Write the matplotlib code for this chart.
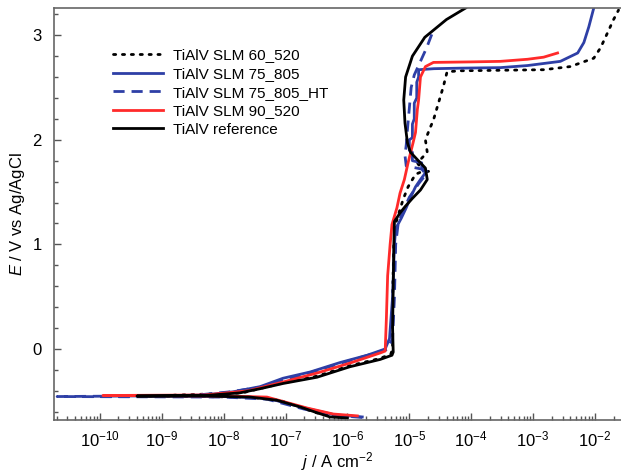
import numpy as np
import matplotlib
matplotlib.use("Agg")
import matplotlib.pyplot as plt
from matplotlib.ticker import FixedLocator, LogLocator, MultipleLocator, NullFormatter

plt.rcParams['font.family'] = ['Liberation Sans', 'DejaVu Sans']
plt.rcParams['mathtext.fontset'] = 'custom'
plt.rcParams['mathtext.rm'] = 'Liberation Sans'
plt.rcParams['mathtext.it'] = 'Liberation Sans:italic'

# polarization curves: log10(j / A cm-2) and E / V
lj_60 = [-6.05, -6.5, -7.1, -7.6, -9.2, -7.7, -7.04, -6.49, -5.96, -5.47, -5.30, -5.27,
         -5.27, -5.25, -5.22, -5.10, -5.02, -4.90, -4.82, -4.66, -4.80, -4.87, -4.71,
         -4.74, -4.66, -4.61, -4.50, -4.45, -4.39, -4.29, -4.18, -2.83, -2.40, -2.02,
         -1.91, -1.80, -1.70, -1.62]
E_60 = [-0.66, -0.61, -0.49, -0.46, -0.45, -0.42, -0.325, -0.26, -0.16, -0.09, -0.05, 0.0,
        0.5, 1.0, 1.2, 1.43, 1.55, 1.67, 1.69, 1.70, 1.72, 1.78, 1.88,
        2.0, 2.12, 2.19, 2.41, 2.51, 2.65, 2.655, 2.66, 2.67, 2.70, 2.78,
        2.88, 3.02, 3.15, 3.24]

lj_75 = [-5.76, -6.2, -6.65, -7.3, -8.0, -9.3, -8.3, -7.85, -7.41, -7.04, -6.60, -6.12,
         -5.68, -5.39, -5.32, -5.27, -5.24, -5.22, -5.13, -5.05, -4.98, -4.90, -4.82,
         -4.72, -4.80, -4.80, -4.95, -4.95, -5.00, -5.00, -4.95, -4.95, -4.92, -4.92,
         -4.88, -4.88, -4.85, -4.85, -4.6, -4.17, -3.53, -3.09, -2.56, -2.28, -2.18,
         -2.10, -2.02]
E_75 = [-0.65, -0.63, -0.57, -0.47, -0.455, -0.45, -0.44, -0.41, -0.36, -0.28, -0.22, -0.13,
        -0.06, 0.0, 0.1, 0.5, 1.0, 1.15, 1.25, 1.35, 1.45, 1.55, 1.62,
        1.70, 1.74, 1.78, 1.80, 1.88, 1.90, 2.00, 2.02, 2.15, 2.20, 2.35,
        2.40, 2.55, 2.60, 2.67, 2.68, 2.685, 2.69, 2.71, 2.75, 2.83, 2.93,
        3.08, 3.26]

lj_75ht = [-5.76, -6.2, -6.7, -7.3, -8.0, -10.69, -8.5, -7.9, -7.4, -7.0, -6.6, -6.1,
           -5.7, -5.36, -5.27, -5.24, -5.22, -5.18, -5.10, -5.0, -4.85, -4.73, -4.80,
           -5.05, -5.07, -5.05, -5.03, -5.0, -4.97, -4.92, -4.82, -4.72, -4.61]
E_75ht = [-0.655, -0.635, -0.575, -0.48, -0.46, -0.455, -0.445, -0.41, -0.365, -0.29, -0.225, -0.135,
          -0.065, -0.005, 0.1, 0.5, 1.0, 1.2, 1.32, 1.45, 1.58, 1.67, 1.72,
          1.75, 1.85, 1.95, 2.1, 2.3, 2.5, 2.62, 2.75, 2.88, 3.05]

lj_90 = [-5.84, -6.23, -6.65, -7.30, -8.0, -9.95, -8.3, -7.6, -7.04, -6.49, -5.955, -5.47,
         -5.39, -5.37, -5.35, -5.31, -5.28, -5.20, -5.15, -5.08, -5.02, -4.94, -4.90,
         -4.87, -4.85, -4.82, -4.74, -4.61, -4.0, -3.53, -3.09, -2.83, -2.605]
E_90 = [-0.64, -0.622, -0.565, -0.46, -0.45, -0.445, -0.44, -0.40, -0.316, -0.23, -0.134, -0.038,
        -0.02, 0.3, 0.7, 1.0, 1.19, 1.35, 1.49, 1.62, 1.78, 1.97, 2.07,
        2.29, 2.38, 2.60, 2.70, 2.74, 2.745, 2.75, 2.77, 2.79, 2.83]

lj_ref = [-6.00, -6.28, -6.49, -6.76, -7.14, -7.57, -8.3, -9.40, -8.3, -7.74, -7.41, -7.04,
          -6.49, -5.96, -5.47, -5.28, -5.26, -5.27, -5.26, -5.25, -5.24, -5.15, -5.07,
          -4.95, -4.82, -4.71, -4.74, -4.87, -4.98, -5.03, -5.07, -5.09, -5.06, -4.95,
          -4.75, -4.40, -4.09]
E_ref = [-0.66, -0.65, -0.61, -0.555, -0.49, -0.46, -0.45, -0.45, -0.445, -0.42, -0.38, -0.33,
         -0.27, -0.17, -0.10, -0.06, -0.03, 0.2, 0.6, 1.0, 1.22, 1.30, 1.36,
         1.44, 1.52, 1.62, 1.73, 1.81, 1.88, 1.97, 2.16, 2.38, 2.6, 2.8,
         2.98, 3.15, 3.26]

labels = ['TiAlV SLM 60_520', 'TiAlV SLM 75_805', 'TiAlV SLM 75_805_HT',
          'TiAlV SLM 90_520', 'TiAlV reference']
x_decades = [-10, -9, -8, -7, -6, -5, -4, -3, -2]

blue = '#2e3fa6'
red = '#ff2a2a'

fig = plt.figure(figsize=(6.21, 4.72), dpi=100)
ax = fig.add_axes([0.087, 0.110, 0.913, 0.873])

ax.plot(10.0 ** np.array(lj_60), E_60, color='black', lw=2.0, ls=(0, (0.8, 2.4)),
        dash_capstyle='round', label=labels[0])
ax.plot(10.0 ** np.array(lj_75), E_75, color=blue, lw=2.0, label=labels[1])
ax.plot(10.0 ** np.array(lj_75ht), E_75ht, color=blue, lw=2.0, ls=(0, (4, 2.5)),
        label=labels[2])
ax.plot(10.0 ** np.array(lj_90), E_90, color=red, lw=2.0, label=labels[3])
ax.plot(10.0 ** np.array(lj_ref), E_ref, color='black', lw=2.0, label=labels[4])

ax.set_xscale('log')
ax.set_xlim(10 ** -10.74, 10 ** -1.58)
ax.set_ylim(-0.68, 3.26)

ax.xaxis.set_major_locator(FixedLocator([10.0 ** d for d in x_decades]))
ax.xaxis.set_minor_locator(LogLocator(base=10, subs=np.arange(2, 10), numticks=20))
ax.xaxis.set_minor_formatter(NullFormatter())
ax.yaxis.set_major_locator(MultipleLocator(1))
ax.yaxis.set_minor_locator(MultipleLocator(0.2))

ax.tick_params(which='both', direction='in', colors='#555555', labelcolor='black',
               labelsize=12, top=False, right=False)
ax.tick_params(which='major', length=5, width=1)
ax.tick_params(which='minor', length=3, width=1)
ax.tick_params(axis='x', pad=7)
ax.tick_params(axis='y', pad=9)

for s in ['left', 'bottom', 'top']:
    ax.spines[s].set_color('#666666')
    ax.spines[s].set_linewidth(1.2)
ax.spines['right'].set_visible(False)

ax.set_xlabel(r'$\mathit{j}$ / A cm$^{-2}$', fontsize=12, labelpad=0)
ax.set_ylabel(r'$\mathit{E}$ / V vs Ag/AgCl', fontsize=12, labelpad=4)

ax.legend(loc='upper left', bbox_to_anchor=(0.104, 0.902), frameon=False, fontsize=11,
          handlelength=3.3, handletextpad=0.65, labelspacing=0.3,
          borderpad=0, borderaxespad=0)

fig.savefig('out.png', dpi=100)
